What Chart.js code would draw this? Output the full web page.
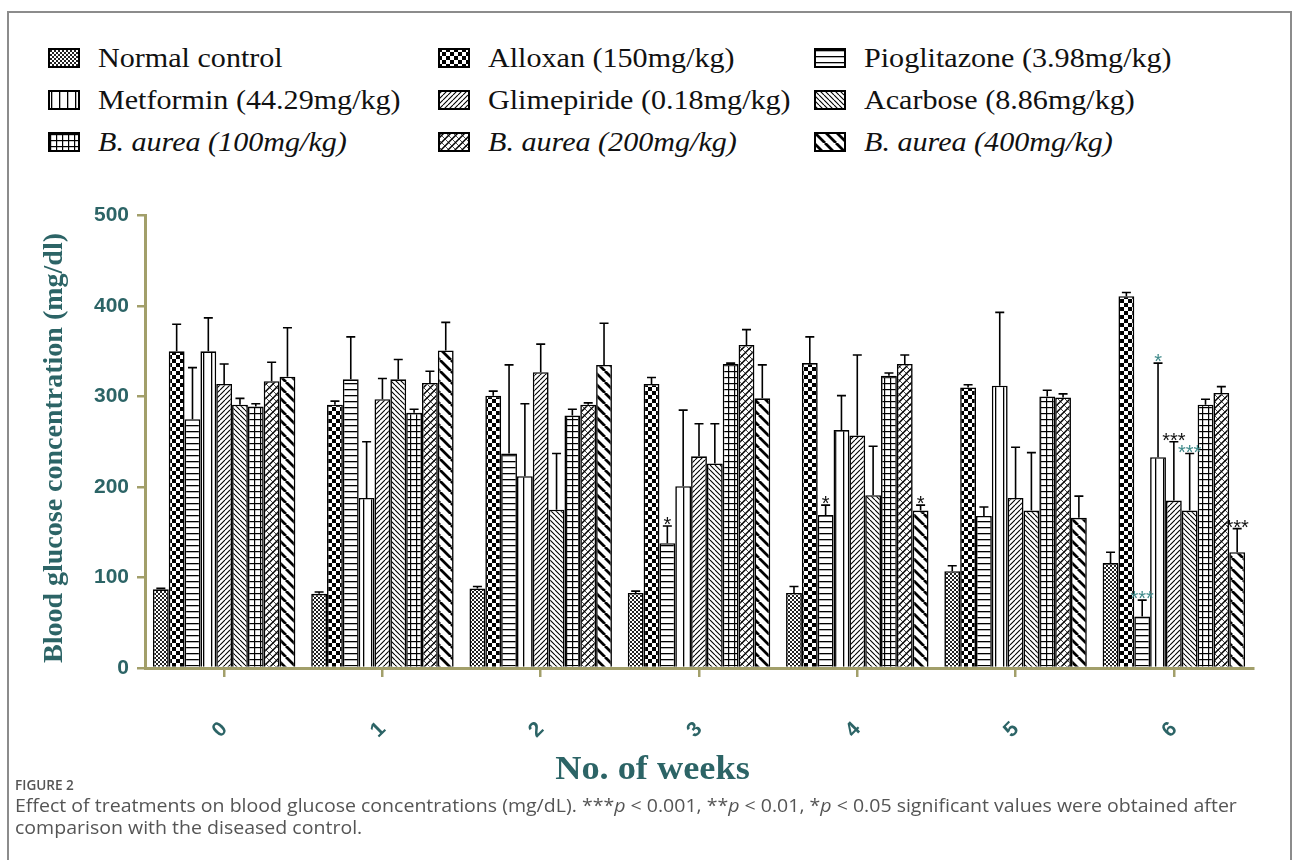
<!DOCTYPE html>
<html>
<head>
<meta charset="utf-8">
<script src="https://cdn.jsdelivr.net/npm/chart.js@4.4.1/dist/chart.umd.min.js"></script>
<style>
  html,body{margin:0;padding:0;background:#fff;}
  body{width:1293px;height:860px;overflow:hidden;position:relative;}
  #frame{position:absolute;left:7px;top:11px;width:1285px;height:900px;border:2px solid #8c8c8c;box-sizing:border-box;}
  #legend{position:absolute;left:0;top:0;width:1293px;height:180px;}
  .item{position:absolute;display:flex;align-items:center;font-family:"Liberation Serif","Times New Roman",serif;font-size:28px;color:#111;white-space:nowrap;height:34px;}
  .item canvas{display:block;margin-right:18px;}
  .item span{display:inline-block;transform:scaleX(1.075);transform-origin:left center;}
  .item i{font-style:italic;}
  #c{position:absolute;left:0;top:195px;}
  #figlab{position:absolute;left:15px;top:775px;font-family:"Open Sans","Noto Sans",sans-serif;font-size:14px;color:#555;font-weight:600;transform:scaleX(0.97);transform-origin:left;}
  .cap{position:absolute;left:15px;font-family:"Open Sans","Noto Sans",sans-serif;font-size:18px;color:#555;white-space:nowrap;transform:scaleX(1.085);transform-origin:left;}
  .cap i{font-style:italic;}
</style>
</head>
<body>
<div id="frame"></div>
<div id="legend"></div>
<canvas id="c" width="1293" height="605"></canvas>
<div id="figlab">FIGURE 2</div>
<div class="cap" id="cap1" style="top:793px;">Effect of treatments on blood glucose concentrations (mg/dL). ***<i>p</i> &lt; 0.001, **<i>p</i> &lt; 0.01, *<i>p</i> &lt; 0.05 significant values were obtained after</div>
<div class="cap" id="cap2" style="top:815px;">comparison with the diseased control.</div>
<script>
// ---------- data ----------
const weeks = ['0', '1', '2', '3', '4', '5', '6'];
const seriesNames = ['Normal control', 'Alloxan (150mg/kg)', 'Pioglitazone (3.98mg/kg)',
  'Metformin (44.29mg/kg)', 'Glimepiride (0.18mg/kg)', 'Acarbose (8.86mg/kg)',
  'B. aurea (100mg/kg)', 'B. aurea (200mg/kg)', 'B. aurea (400mg/kg)'];
const italicSeries = [false, false, false, false, false, false, true, true, true];
const xTitle = 'No. of weeks';
const yTitle = 'Blood glucose concentration (mg/dl)';

const normalControl = [87, 82, 88, 83, 83, 107, 116];
const normalControlErr = [1, 2, 2, 2, 7, 6, 12];
const alloxan = [350, 291, 301, 314, 337, 310, 411];
const alloxanErr = [30, 4, 5, 7, 29, 3, 4];
const pioglitazone = [275, 319, 237, 138, 169, 168, 57];
const pioglitazoneErr = [57, 47, 98, 19, 11, 10, 18];
const metformin = [350, 188, 212, 201, 263, 312, 233];
const metforminErr = [37, 62, 80, 84, 38, 81, 104];
const glimepiride = [314, 297, 327, 234, 257, 188, 185];
const glimepirideErr = [22, 23, 31, 36, 89, 56, 65];
const acarbose = [291, 319, 175, 226, 191, 174, 174];
const acarboseErr = [7, 22, 62, 44, 54, 64, 63];
const aurea100 = [289, 282, 279, 336, 323, 300, 291];
const aurea100Err = [3, 4, 7, 1, 3, 7, 6];
const aurea200 = [317, 315, 291, 357, 336, 299, 304];
const aurea200Err = [21, 13, 2, 17, 10, 4, 7];
const aurea400 = [322, 351, 335, 298, 174, 166, 128];
const aurea400Err = [54, 31, 46, 37, 6, 24, 26];

const yTicks = [0, 100, 200, 300, 400, 500];

// significance marks: [series index, week index, text]
const sigMarksBlack = [[2, 3, '*'], [2, 4, '*'], [8, 4, '*'], [4, 6, '***'], [8, 6, '***']];
const sigMarksTeal = [[2, 6, '***'], [3, 6, '*'], [5, 6, '***']];

const allValues = [normalControl, alloxan, pioglitazone, metformin, glimepiride, acarbose, aurea100, aurea200, aurea400];
const allErrors = [normalControlErr, alloxanErr, pioglitazoneErr, metforminErr, glimepirideErr, acarboseErr, aurea100Err, aurea200Err, aurea400Err];

// ---------- patterns ----------
const patternKinds = ['fine', 'check', 'hlines', 'vlines', 'slash', 'back', 'grid', 'cross', 'bigback'];
function makePattern(kind) {
  const c = document.createElement('canvas');
  const sizes = {fine: 4, check: 8, hlines: 6, vlines: 8, slash: 5, back: 5, grid: 6, cross: 7, bigback: 11};
  const s = sizes[kind];
  c.width = s; c.height = s;
  const g = c.getContext('2d');
  g.fillStyle = '#fff'; g.fillRect(0, 0, s, s);
  g.fillStyle = '#000'; g.strokeStyle = '#000';
  const slash = (lw) => { g.lineWidth = lw; g.beginPath();
    for (let k = -1; k <= 1; k++) { g.moveTo(k * s, s); g.lineTo(k * s + s, 0); } g.stroke(); };
  const back = (lw) => { g.lineWidth = lw; g.beginPath();
    for (let k = -1; k <= 1; k++) { g.moveTo(k * s, 0); g.lineTo(k * s + s, s); } g.stroke(); };
  switch (kind) {
    case 'fine': g.fillStyle = '#222'; g.fillRect(0, 0, 2, 2); g.fillRect(2, 2, 2, 2); break;
    case 'check': g.fillRect(0, 0, 4, 4); g.fillRect(4, 4, 4, 4); break;
    case 'hlines': g.fillRect(0, 2, s, 1.3); break;
    case 'vlines': g.fillRect(3, 0, 1.3, s); break;
    case 'slash': slash(1.1); break;
    case 'back': back(1.1); break;
    case 'grid': g.fillRect(0, 2, s, 1.2); g.fillRect(2, 0, 1.2, s); break;
    case 'cross': slash(1.5); back(0.7); break;
    case 'bigback': back(2.8); break;
  }
  return document.getElementById('c').getContext('2d').createPattern(c, 'repeat');
}
const patterns = patternKinds.map(makePattern);

// ---------- legend ----------
const legendCols = [48, 438, 814];
const legendRows = [58, 100, 142];
const legendEl = document.getElementById('legend');
seriesNames.forEach((name, i) => {
  const div = document.createElement('div');
  div.className = 'item';
  div.style.left = legendCols[i % 3] + 'px';
  div.style.top = (legendRows[Math.floor(i / 3)] - 17) + 'px';
  const sw = document.createElement('canvas');
  sw.width = 32; sw.height = 20;
  const g = sw.getContext('2d');
  g.fillStyle = patterns[i]; g.fillRect(0, 0, 32, 20);
  g.strokeStyle = '#000'; g.lineWidth = 2; g.strokeRect(1, 1, 30, 18);
  div.appendChild(sw);
  const span = document.createElement('span');
  if (italicSeries[i]) { const it = document.createElement('i'); it.textContent = name; span.appendChild(it); }
  else span.textContent = name;
  div.appendChild(span);
  legendEl.appendChild(div);
});

// ---------- chart ----------
const teal = '#2c6466';
const olive = '#a29f6a';

const errPlugin = {
  id: 'errbars',
  afterDatasetsDraw(chart) {
    const ctx = chart.ctx, ys = chart.scales.y;
    const tops = [];
    chart.data.datasets.forEach((ds, i) => {
      const meta = chart.getDatasetMeta(i);
      tops[i] = [];
      meta.data.forEach((bar, j) => {
        const top = ys.getPixelForValue(ds.data[j] + ds.errors[j]);
        tops[i][j] = {x: bar.x, y: top};
        ctx.save();
        ctx.strokeStyle = '#000'; ctx.lineWidth = 1.6;
        ctx.beginPath();
        ctx.moveTo(bar.x, bar.y); ctx.lineTo(bar.x, top);
        ctx.moveTo(bar.x - 4.5, top); ctx.lineTo(bar.x + 4.5, top);
        ctx.stroke();
        ctx.restore();
      });
    });
    const drawMarks = (list, color) => {
      list.forEach(([s, w, t]) => {
        const p = tops[s][w];
        ctx.save();
        ctx.fillStyle = color;
        ctx.font = '20px "Liberation Sans", Arial, sans-serif';
        ctx.textAlign = 'center'; ctx.textBaseline = 'alphabetic';
        ctx.fillText(t, p.x, p.y + 5);
        ctx.restore();
      });
    };
    drawMarks(sigMarksBlack, '#111');
    drawMarks(sigMarksTeal, '#3f8a8a');
  },
  afterDraw(chart) {
    const ctx = chart.ctx;
    // x-axis title, centred on the page as in the reference figure
    ctx.save();
    ctx.fillStyle = teal;
    ctx.font = 'bold 33px "Liberation Serif", "Times New Roman", serif';
    ctx.textAlign = 'center'; ctx.textBaseline = 'middle';
    ctx.translate(chart.width / 2 + 6, 575);
    ctx.scale(1.1, 1);
    ctx.fillText(xTitle, 0, 0);
    ctx.restore();
    // y-axis title
    ctx.save();
    ctx.fillStyle = teal;
    ctx.font = 'bold 28px "Liberation Serif", "Times New Roman", serif';
    ctx.textAlign = 'center'; ctx.textBaseline = 'middle';
    ctx.translate(55, 253);
    ctx.rotate(-Math.PI / 2);
    ctx.fillText(yTitle, 0, 0);
    ctx.restore();
  }
};

new Chart(document.getElementById('c'), {
  type: 'bar',
  data: {
    labels: weeks,
    datasets: seriesNames.map((name, i) => ({
      label: name,
      data: allValues[i],
      errors: allErrors[i],
      backgroundColor: patterns[i],
      borderColor: '#000',
      borderWidth: 1.6,
      borderSkipped: 'bottom',
      barPercentage: 1.0,
      categoryPercentage: 0.9
    }))
  },
  options: {
    responsive: false,
    animation: false,
    devicePixelRatio: 1,
    layout: {padding: {top: 20, right: 40, left: 0, bottom: 0}},
    plugins: {legend: {display: false}, tooltip: {enabled: false}},
    scales: {
      x: {
        grid: {display: true, drawOnChartArea: false, offset: false, color: olive, lineWidth: 2.5, tickLength: 9},
        border: {display: true, color: olive, width: 3},
        ticks: {
          color: teal, minRotation: 45, maxRotation: 45, padding: 40,
          font: {family: '"Liberation Sans", Arial, sans-serif', size: 21, weight: 'bold'}
        },
        title: {display: false, text: xTitle},
        afterFit(scale) { scale.height = 132; }
      },
      y: {
        min: 0, max: 500,
        afterBuildTicks(scale) { scale.ticks = yTicks.map(v => ({value: v})); },
        grid: {display: true, drawOnChartArea: false, color: olive, lineWidth: 2.5, tickLength: 8},
        border: {display: true, color: olive, width: 3},
        ticks: {
          color: teal, padding: 8,
          font: {family: '"Liberation Sans", Arial, sans-serif', size: 21, weight: 'bold'}
        },
        title: {display: false, text: yTitle},
        afterFit(scale) { scale.width = 145; }
      }
    }
  },
  plugins: [errPlugin]
});
</script>
</body>
</html>
